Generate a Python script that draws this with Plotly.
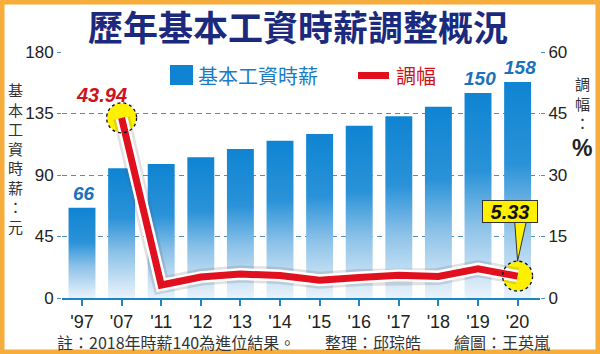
import plotly.graph_objects as go

# ---------------- data ----------------
years = ["'97", "'07", "'11", "'12", "'13", "'14", "'15", "'16", "'17", "'18", "'19", "'20"]
wage = [66, 95, 98, 103, 109, 115, 120, 126, 133, 140, 150, 158]
change = [None, 43.94, 3.16, 5.10, 5.83, 5.50, 4.35, 5.00, 5.56, 5.26, 7.14, 5.33]
wage_label_years = ["'97", "'19", "'20"]
left_ticks = [0, 45, 90, 135, 180]
right_ticks = [0, 15, 30, 45, 60]

# ---------------- layout geometry (pixels) ----------------
W, H = 600, 354
ML, MR, MT, MB = 62, 60, 52, 56
PW, PH = W - ML - MR, H - MT - MB

def px(x):
    return (x - ML) / PW

def py(y):
    return (H - MB - y) / PH

CJK = "Noto Sans CJK TC"
NUM = "Liberation Sans"
BLUE = "#0f84d2"
RED = "#e0101e"
GRID = "#4f8fc0"
AXIS = "#1a86c8"

fig = go.Figure()

# bars as gradient-filled polygons
BW = 0.68
xs = list(range(len(years)))
for i, v in zip(xs, wage):
    fig.add_trace(go.Scatter(
        x=[i - BW / 2, i - BW / 2, i + BW / 2, i + BW / 2, i - BW / 2],
        y=[0, v, v, 0, 0],
        mode="lines", line=dict(width=0), fill="toself",
        fillgradient=dict(type="vertical",
                          colorscale=[[0, "#eaf3fb"], [0.35, "#8cc2e8"], [0.62, "#2a92d8"], [1, BLUE]]),
        hoverinfo="skip", showlegend=False, yaxis="y"))

# highlight circles (yellow fill)
hl_idx = [1, len(years) - 1]
fig.add_trace(go.Scatter(
    x=[xs[i] for i in hl_idx], y=[change[i] for i in hl_idx], yaxis="y2",
    mode="markers", marker=dict(size=29, color="#fff000", line=dict(width=0)),
    hoverinfo="skip", showlegend=False))

# line: shadow, white halo, red
lx = [x for x, c in zip(xs, change) if c is not None]
ly = [c for c in change if c is not None]
fig.add_trace(go.Scatter(x=lx, y=ly, yaxis="y2", mode="lines",
                         line=dict(color="rgba(90,90,90,0.18)", width=17),
                         hoverinfo="skip", showlegend=False))
fig.add_trace(go.Scatter(x=lx, y=ly, yaxis="y2", mode="lines",
                         line=dict(color="white", width=12),
                         hoverinfo="skip", showlegend=False))
fig.add_trace(go.Scatter(x=lx, y=ly, yaxis="y2", mode="lines",
                         line=dict(color=RED, width=7),
                         hoverinfo="skip", showlegend=False))

shapes = []
# dashed rings around highlighted points
for i in hl_idx:
    shapes.append(dict(type="circle", xref="x", yref="y2", xsizemode="pixel", ysizemode="pixel",
                       xanchor=xs[i], yanchor=change[i], x0=-15, x1=15, y0=-15, y1=15,
                       line=dict(color="#111", width=1.3, dash="dot"), layer="above"))
# callout wedge for last value
last = len(years) - 1
shapes.append(dict(type="path", xref="x", yref="y2", xsizemode="pixel", ysizemode="pixel",
                   xanchor=xs[last], yanchor=change[last],
                   path="M -3,56 L 9,56 L 0,15 Z",
                   fillcolor="#fff000", line=dict(color="#333", width=1), layer="above"))
# legend markers
shapes.append(dict(type="rect", xref="paper", yref="paper", x0=px(170), x1=px(193), y0=py(85), y1=py(65),
                   fillcolor=BLUE, line=dict(width=0)))
shapes.append(dict(type="rect", xref="paper", yref="paper", x0=px(358), x1=px(389), y0=py(79), y1=py(72),
                   fillcolor=RED, line=dict(width=0)))
# frame
shapes.append(dict(type="rect", xref="paper", yref="paper", x0=px(0), x1=px(W), y0=py(H), y1=py(0),
                   line=dict(color="#f6ad3c", width=9), fillcolor="rgba(0,0,0,0)", layer="above"))

ann = []
# title
ann.append(dict(text="<b>歷年基本工資時薪調整概況</b>", xref="paper", yref="paper", x=px(298), y=py(26),
                showarrow=False, font=dict(family=CJK, size=35, color="#1c2a7e"),
                xanchor="center", yanchor="middle"))
# legend text
ann.append(dict(text="基本工資時薪", xref="paper", yref="paper", x=px(196), y=py(75), showarrow=False,
                font=dict(family=CJK, size=20, color="#1a7cc4"), xanchor="left", yanchor="middle"))
ann.append(dict(text="調幅", xref="paper", yref="paper", x=px(394), y=py(75), showarrow=False,
                font=dict(family=CJK, size=20, color="#d0121b"), xanchor="left", yanchor="middle"))
# axis titles
ann.append(dict(text="<br>".join(list("基本工資時薪：元")), xref="paper", yref="paper", x=px(15), y=py(158),
                showarrow=False, font=dict(family=CJK, size=15, color="#333"),
                xanchor="center", yanchor="middle"))
ann.append(dict(text="調<br>幅<br>：", xref="paper", yref="paper", x=px(582), y=py(103),
                showarrow=False, font=dict(family=CJK, size=15, color="#333"),
                xanchor="center", yanchor="middle"))
ann.append(dict(text="<b>%</b>", xref="paper", yref="paper", x=px(582), y=py(148),
                showarrow=False, font=dict(family=NUM, size=23, color="#222"),
                xanchor="center", yanchor="middle"))
# bar value labels
for i, (yr, v) in enumerate(zip(years, wage)):
    if yr in wage_label_years:
        ann.append(dict(text=f"<b><i>{v}</i></b>", x=xs[i], y=v, xref="x", yref="y", showarrow=False,
                        xanchor="center", yanchor="bottom", yshift=2, xshift=2,
                        font=dict(family=NUM, size=19, color="#1a72bc")))
# line value labels
ann.append(dict(text=f"<b><i>{change[1]:.2f}</i></b>", x=xs[1], y=change[1], xref="x", yref="y2",
                showarrow=False, xanchor="center", yanchor="middle", xshift=-20, yshift=23,
                font=dict(family=NUM, size=20, color="#d0121b")))
ann.append(dict(text=f"<b><i>{change[last]:.2f}</i></b>", x=xs[last], y=change[last], xref="x", yref="y2",
                showarrow=False, xanchor="center", yanchor="middle", xshift=-8, yshift=65,
                width=52, height=19, bgcolor="#fff000", bordercolor="#333", borderwidth=1, borderpad=1,
                font=dict(family=NUM, size=20, color="#111")))
# footnote
ann.append(dict(text="註：2018年時薪140為進位結果。", xref="paper", yref="paper", x=px(55), y=py(342),
                showarrow=False, xanchor="left", yanchor="middle", font=dict(family=CJK, size=16, color="#333")))
ann.append(dict(text="整理：邱琮皓", xref="paper", yref="paper", x=px(323), y=py(342),
                showarrow=False, xanchor="left", yanchor="middle", font=dict(family=CJK, size=16, color="#333")))
ann.append(dict(text="繪圖：王英嵐", xref="paper", yref="paper", x=px(452), y=py(342),
                showarrow=False, xanchor="left", yanchor="middle", font=dict(family=CJK, size=16, color="#333")))

fig.update_layout(
    width=W, height=H, margin=dict(l=ML, r=MR, t=MT, b=MB),
    paper_bgcolor="white", plot_bgcolor="white", showlegend=False, hovermode=False,
    xaxis=dict(range=[(ML - 82) / 39.6, (W - MR - 82) / 39.6], tickmode="array", tickvals=xs, ticktext=years,
               showline=True, linecolor=AXIS, linewidth=2, ticks="outside", ticklen=6, tickwidth=1.5,
               tickcolor=AXIS, showgrid=False, zeroline=False,
               tickfont=dict(family=NUM, size=18, color="#222")),
    yaxis=dict(range=[0, 180], tickvals=left_ticks, showgrid=True, gridcolor=GRID, griddash="5px,4px",
               gridwidth=1.2, ticks="outside", ticklen=4, tickcolor=GRID, zeroline=False, showline=False,
               tickfont=dict(family=NUM, size=17, color="#222")),
    yaxis2=dict(range=[0, 60], tickvals=right_ticks, overlaying="y", side="right", showgrid=False,
                ticks="outside", ticklen=4, tickcolor=GRID, zeroline=False, showline=False,
                tickfont=dict(family=NUM, size=17, color="#222")),
    shapes=shapes, annotations=ann,
)

fig.write_html("out.html")
